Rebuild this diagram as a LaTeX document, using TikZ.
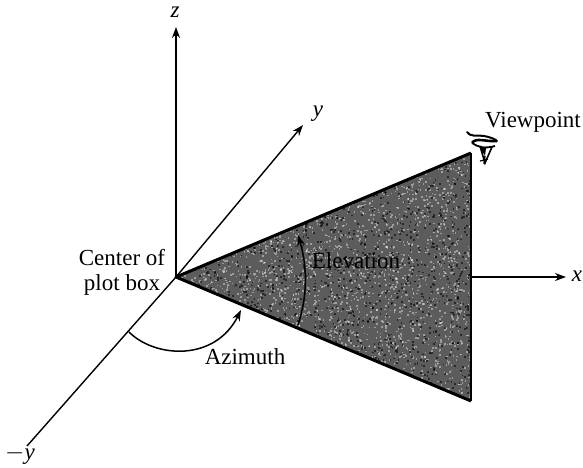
\documentclass[tikz,border=0pt]{standalone}
\usepackage{fontspec}
\setmainfont{Liberation Serif}
\usetikzlibrary{arrows.meta}
\tikzset{
  axis/.style={line width=1.4pt,-{Stealth[length=11pt,width=8pt]}},
  arcarrow/.style={line width=1.5pt,-{Stealth[length=11pt,width=8pt]}},
  lbl/.style={font=\fontsize{23}{25}\selectfont,inner sep=0pt,align=center},
  axlbl/.style={font=\fontsize{23}{25}\selectfont\itshape,inner sep=0pt},
  edge/.style={line width=3pt,line join=round}
}
\begin{document}
\begin{tikzpicture}[x=1pt,y=-1pt]
\useasboundingbox (0,0) rectangle (583,467);
\fill[white] (0,0) rectangle (583,467);
\coordinate (O) at (176,277);
\coordinate (A) at (471,153);
\coordinate (B) at (471,401);
\coordinate (M) at (471,277);
\coordinate (zt) at (176,27);
\coordinate (yt) at (303,125);
\coordinate (nyt) at (27,446);
\coordinate (xt) at (566,277);
\fill[black!64] (O) -- (A) -- (B) -- cycle;
\begin{scope}
\clip (O) -- (A) -- (B) -- cycle;
\pgfmathsetseed{7}
\foreach \i in {1,...,3500}{
  \pgfmathsetmacro{\px}{176+295*rnd}
  \pgfmathsetmacro{\py}{150+255*rnd}
  \fill[white,opacity=.4] (\px,\py) rectangle ++(1.6,1.6);
}
\foreach \i in {1,...,1800}{
  \pgfmathsetmacro{\px}{176+295*rnd}
  \pgfmathsetmacro{\py}{150+255*rnd}
  \fill[black,opacity=.55] (\px,\py) rectangle ++(1.8,1.8);
}
\end{scope}
\draw[edge] (A) -- (O) -- (B);
\draw[line width=1.8pt] (A) -- (B);
\draw[axis] (O) -- (zt);
\draw[axis] (O) -- (yt);
\draw[line width=1.4pt] (O) -- (nyt);
\draw[axis] (M) -- (xt);
\draw[arcarrow] (129,332) .. controls (155,358) and (215,362) .. (241,310);
\draw[arcarrow] (298,325) .. controls (308,295) and (307,265) .. (298,235);
\node[axlbl] (zl) at (175,12) {z};
\node[axlbl] (yl) at (318,114) {y};
\node[axlbl] (xl) at (577,276) {x};
\node[axlbl] (nyl) at (20,455) {$-$y};
\node[lbl] (cen) at (122,272) {Center of\\plot box};
\node[lbl] (azi) at (245,357) {Azimuth};
\node[lbl] (ele) at (356,261) {Elevation};
\node[lbl] (vp) at (533,122) {Viewpoint};
% eye
\draw[line width=2pt,line cap=round] (467,132) .. controls (470,137) and (476,135) .. (484,136) .. controls (490,137) and (495,139) .. (497,141);
\draw[line width=2.6pt] (472,143) .. controls (476,137) and (486,142) .. (497,141);
\draw[line width=1.8pt] (472,143) .. controls (478,147) and (484,149) .. (495,146);
\fill[black] (479,146) -- (486,148) -- (485,156) -- cycle;
\draw[line width=1.6pt] (480,146) -- (485,163) -- (492,147);
\draw[line width=1.4pt] (485,156) -- (484,164);
\draw[line width=1.2pt] (480,161) -- (488,159);
\end{tikzpicture}
\end{document}
